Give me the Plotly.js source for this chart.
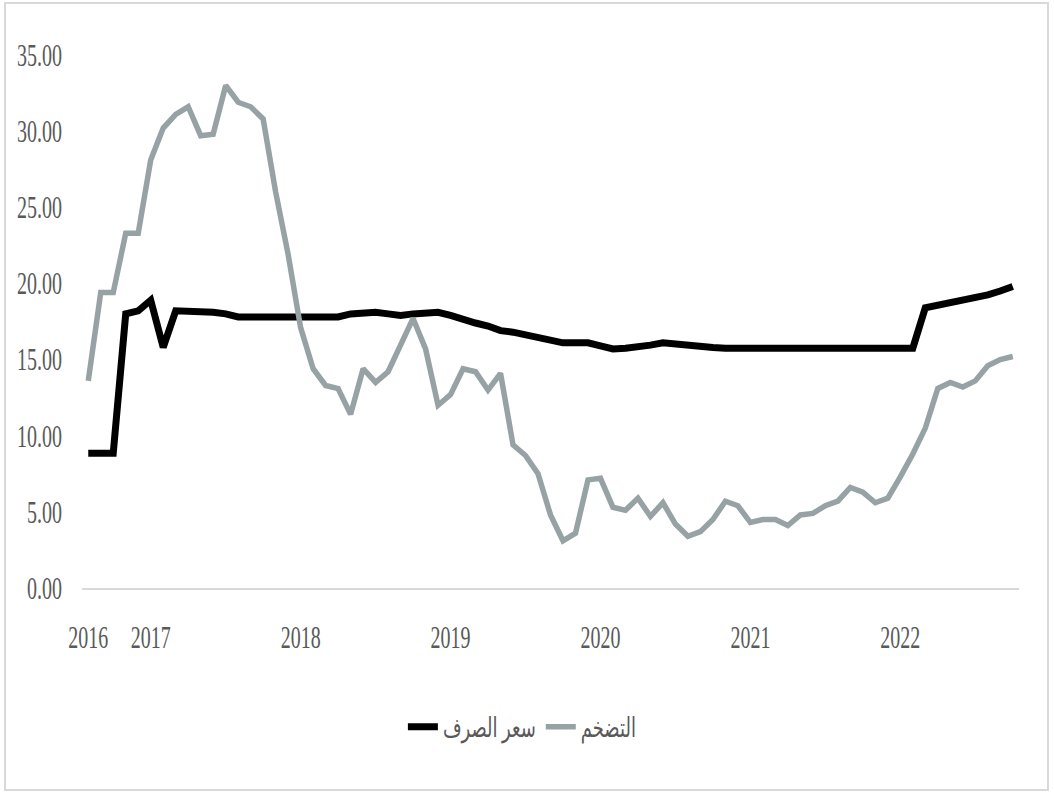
<!DOCTYPE html>
<html>
<head>
<meta charset="utf-8">
<script src="https://cdn.plot.ly/plotly-3.0.1.min.js"></script>
<style>
  html, body { margin: 0; padding: 0; background: #ffffff; }
  #wrap { position: relative; width: 1054px; height: 794px; }
  #chart { width: 1054px; height: 794px; }
  #frame { position: absolute; left: 4px; top: 2px; width: 1045px; height: 789px;
           border: 2px solid #d9d9d9; box-sizing: border-box; pointer-events: none; }
</style>
</head>
<body>
<div id="wrap">
  <div id="chart"></div>
  <div id="frame"></div>
</div>
<script>
// Monthly series, Aug 2016 .. Oct 2022
var startYear = 2016, startMonth = 8, nMonths = 75;

var exchangeRate = [
  8.85, 8.85, 8.85, 18.0, 18.2, 18.9, 15.8, 18.2, 18.2, 18.1, 18.1, 18.0,
  17.8, 17.8, 17.8, 17.8, 17.9, 17.8, 17.8, 17.8, 17.8, 18.0, 18.1, 18.1,
  18.0, 17.9, 18.0, 18.1, 18.1, 17.9, 17.6, 17.4, 17.2, 16.9, 16.8, 16.6,
  16.5, 16.3, 16.1, 16.1, 16.1, 15.9, 15.7, 15.75, 15.8, 15.95, 16.1, 16.0,
  15.9, 15.85, 15.8, 15.75, 15.75, 15.85, 15.75, 15.75, 15.75, 15.75, 15.75, 15.75,
  15.75, 15.75, 15.85, 15.75, 15.75, 15.75, 15.75, 18.4, 18.55, 18.7, 18.85, 19.05,
  19.25, 19.5, 19.8
];

var inflation = [
  13.6, 19.4, 19.4, 23.3, 23.3, 28.1, 30.2, 31.1, 31.6, 29.7, 29.8, 33.0,
  31.9, 31.6, 30.8, 26.0, 21.9, 17.1, 14.4, 13.3, 13.1, 11.4, 14.4, 13.5,
  14.2, 16.0, 17.7, 15.7, 12.0, 12.7, 14.4, 14.2, 13.0, 14.1, 9.4, 8.7,
  7.5, 4.8, 3.1, 3.6, 7.1, 7.2, 5.3, 5.1, 5.9, 4.7, 5.6, 4.2,
  3.4, 3.7, 4.5, 5.7, 5.4, 4.3, 4.5, 4.5, 4.1, 4.8, 4.9, 5.4,
  5.7, 6.6, 6.3, 5.6, 5.9, 7.3, 8.8, 10.5, 13.1, 13.5, 13.2, 13.6,
  14.6, 15.0, 15.2
];

var tickMonths = ['2016-08', '2017-01', '2018-01', '2019-01', '2020-01', '2021-01', '2022-01'];
var tickLabels = ['2016', '2017', '2018', '2019', '2020', '2021', '2022'];

var seriesNames = ['سعر الصرف', 'التضخم'];

var months = [];
for (var i = 0; i < nMonths; i++) {
  var m = startMonth - 1 + i;
  var y = startYear + Math.floor(m / 12);
  var mm = (m % 12) + 1;
  months.push(y + '-' + (mm < 10 ? '0' + mm : '' + mm));
}

var fontFam = 'Liberation Serif, Times New Roman, DejaVu Sans, serif';

var traces = [
  { x: months, y: exchangeRate, name: seriesNames[0], type: 'scatter', mode: 'lines',
    line: { color: '#000000', width: 7 } },
  { x: months, y: inflation, name: seriesNames[1], type: 'scatter', mode: 'lines',
    line: { color: '#97a2a5', width: 5.5 } }
];

var layout = {
  width: 1054, height: 794,
  margin: { l: 82, r: 35, t: 55, b: 206 },
  paper_bgcolor: '#ffffff', plot_bgcolor: '#ffffff',
  showlegend: true,
  legend: { orientation: 'h', x: 0.47, xanchor: 'center', y: -0.261, yanchor: 'middle',
            font: { family: fontFam, size: 18, color: '#595959' }, itemwidth: 30 },
  xaxis: {
    type: 'category', range: [-0.5, nMonths - 0.5],
    tickmode: 'array', tickvals: tickMonths, ticktext: tickLabels,
    showgrid: false, zeroline: false,
    showline: true, linecolor: '#d9d9d9', linewidth: 2,
    ticks: 'outside', ticklen: 30, tickcolor: 'rgba(0,0,0,0)',
    tickfont: { family: fontFam, size: 20, color: '#595959' },
    fixedrange: true
  },
  yaxis: {
    range: [0, 35], dtick: 5, tick0: 0, tickformat: '.2f',
    showgrid: false, zeroline: false, showline: false,
    ticks: 'outside', ticklen: 15, tickcolor: 'rgba(0,0,0,0)',
    tickfont: { family: fontFam, size: 20, color: '#595959' },
    fixedrange: true
  }
};

// stretch label text vertically, like the condensed look of the original
function stretchText(sel, sx, sy) {
  var nodes = document.querySelectorAll(sel);
  nodes.forEach(function (t) {
    var b = t.getBBox();
    var cx = b.x + b.width / 2, cy = b.y + b.height / 2;
    var old = t.getAttribute('transform') || '';
    t.setAttribute('transform', old + ' translate(' + cx + ',' + cy + ') scale(' + sx + ',' + sy +
      ') translate(' + (-cx) + ',' + (-cy) + ')');
  });
}

Plotly.newPlot('chart', traces, layout, { displayModeBar: false, staticPlot: true }).then(function () {
  stretchText('#chart .xtick text', 1.0, 1.55);
  stretchText('#chart .ytick text', 1.0, 1.55);
  stretchText('#chart .legendtext', 1.0, 1.5);
});
</script>
</body>
</html>
